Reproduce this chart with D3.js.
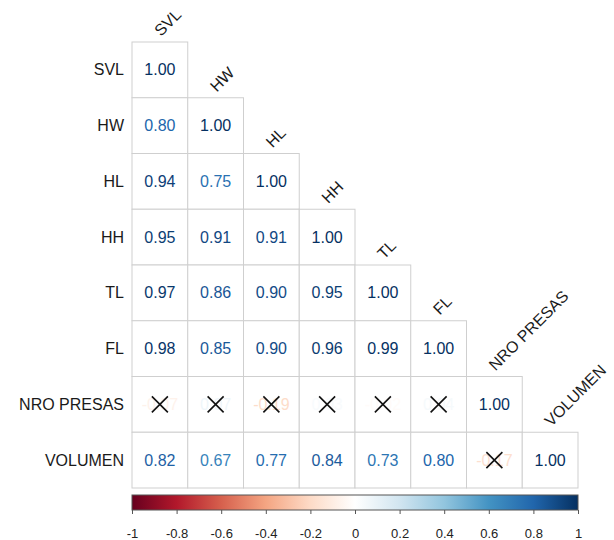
<!DOCTYPE html>
<html>
<head>
<meta charset="utf-8">
<script src="https://cdn.jsdelivr.net/npm/d3@7"></script>
<style>
  html, body { margin: 0; padding: 0; background: #fff; }
  svg { display: block; font-family: "Liberation Sans", Arial, sans-serif; }
</style>
</head>
<body>
<svg id="chart" width="614" height="540"></svg>
<script>
// Variables of the correlation matrix (row / column order)
const variables = ["SVL", "HW", "HL", "HH", "TL", "FL", "NRO PRESAS", "VOLUMEN"];

// Lower-triangle correlations, one array per row (columns from SVL up to the diagonal)
const rowSVL = [1.00];
const rowHW = [0.80, 1.00];
const rowHL = [0.94, 0.75, 1.00];
const rowHH = [0.95, 0.91, 0.91, 1.00];
const rowTL = [0.97, 0.86, 0.90, 0.95, 1.00];
const rowFL = [0.98, 0.85, 0.90, 0.96, 0.99, 1.00];
const rowNRO = [-0.07, 0.07, -0.19, 0.03, -0.02, 0.04, 1.00];
const rowVOL = [0.82, 0.67, 0.77, 0.84, 0.73, 0.80, -0.17, 1.00];

// Non-significant pairs [row, column], crossed out
const insignificant = [
  ["NRO PRESAS", "SVL"], ["NRO PRESAS", "HW"], ["NRO PRESAS", "HL"],
  ["NRO PRESAS", "HH"], ["NRO PRESAS", "TL"], ["NRO PRESAS", "FL"],
  ["VOLUMEN", "NRO PRESAS"]
];

// Colour legend
const legendTicks = [-1, -0.8, -0.6, -0.4, -0.2, 0, 0.2, 0.4, 0.6, 0.8, 1];
const paletteRdBu = ["#67001F", "#B2182B", "#D6604D", "#F4A582", "#FDDBC7", "#FFFFFF",
                     "#D1E5F0", "#92C5DE", "#4393C3", "#2166AC", "#053061"];

const rows = [rowSVL, rowHW, rowHL, rowHH, rowTL, rowFL, rowNRO, rowVOL];
const cells = [];
rows.forEach((r, i) => r.forEach((v, j) => cells.push({ row: variables[i], col: variables[j], value: v })));
const isInsig = (a, b) => insignificant.some(p => p[0] === a && p[1] === b);

const svg = d3.select("#chart");

const gridLeft = 132, gridTop = 42, cell = 55.75;
const n = variables.length;

const x = d3.scaleBand().domain(variables).range([gridLeft, gridLeft + n * cell]);
const y = d3.scaleBand().domain(variables).range([gridTop, gridTop + n * cell]);

const color = d3.scaleLinear()
  .domain(d3.range(paletteRdBu.length).map(i => -1 + i * 2 / (paletteRdBu.length - 1)))
  .range(paletteRdBu)
  .interpolate(d3.interpolateRgb);

// Cell borders
svg.append("g")
  .selectAll("rect")
  .data(cells)
  .join("rect")
  .attr("x", d => x(d.col))
  .attr("y", d => y(d.row))
  .attr("width", x.bandwidth())
  .attr("height", y.bandwidth())
  .attr("fill", "#fff")
  .attr("stroke", "#cfcfcf")
  .attr("stroke-width", 1);

// Coefficients
svg.append("g")
  .selectAll("text")
  .data(cells)
  .join("text")
  .attr("x", d => x(d.col) + x.bandwidth() / 2)
  .attr("y", d => y(d.row) + y.bandwidth() / 2)
  .attr("text-anchor", "middle")
  .attr("dominant-baseline", "central")
  .attr("font-size", 16)
  .attr("fill", d => color(d.value))
  .text(d => d.value.toFixed(2));

// Crosses over non-significant coefficients
const crossHalf = 8;
svg.append("g")
  .selectAll("path")
  .data(cells.filter(d => isInsig(d.row, d.col)))
  .join("path")
  .attr("d", d => {
    const cx = x(d.col) + x.bandwidth() / 2, cy = y(d.row) + y.bandwidth() / 2;
    return `M${cx - crossHalf},${cy - crossHalf}L${cx + crossHalf},${cy + crossHalf}` +
           `M${cx - crossHalf},${cy + crossHalf}L${cx + crossHalf},${cy - crossHalf}`;
  })
  .attr("stroke", "#111")
  .attr("stroke-width", 1.6)
  .attr("fill", "none");

// Row labels
svg.append("g")
  .selectAll("text")
  .data(variables)
  .join("text")
  .attr("x", gridLeft - 8)
  .attr("y", d => y(d) + y.bandwidth() / 2)
  .attr("text-anchor", "end")
  .attr("dominant-baseline", "central")
  .attr("font-size", 16)
  .attr("fill", "#1a1a1a")
  .text(d => d);

// Column labels, diagonal above each diagonal cell
svg.append("g")
  .selectAll("text")
  .data(variables)
  .join("text")
  .attr("transform", d => `translate(${x(d) + x.bandwidth() / 2 + 1},${y(d) - 5}) rotate(-45)`)
  .attr("text-anchor", "start")
  .attr("font-size", 16)
  .attr("fill", "#1a1a1a")
  .text(d => d);

// Colour bar
const barTop = 495, barHeight = 15;
const xLegend = d3.scaleLinear().domain([-1, 1]).range([gridLeft, gridLeft + n * cell]);

const grad = svg.append("defs").append("linearGradient")
  .attr("id", "rdbu")
  .attr("x1", "0%").attr("x2", "100%").attr("y1", "0%").attr("y2", "0%");
grad.selectAll("stop")
  .data(paletteRdBu)
  .join("stop")
  .attr("offset", (d, i) => `${(i / (paletteRdBu.length - 1)) * 100}%`)
  .attr("stop-color", d => d);

svg.append("rect")
  .attr("x", xLegend(-1))
  .attr("y", barTop)
  .attr("width", xLegend(1) - xLegend(-1))
  .attr("height", barHeight)
  .attr("fill", "url(#rdbu)")
  .attr("stroke", "#555")
  .attr("stroke-width", 1);

const legendAxis = d3.axisBottom(xLegend)
  .tickValues(legendTicks)
  .tickSize(4)
  .tickPadding(15)
  .tickFormat(d => String(Math.round(d * 10) / 10));

const gAxis = svg.append("g")
  .attr("transform", `translate(0,${barTop + barHeight})`)
  .call(legendAxis);
gAxis.select(".domain").remove();
gAxis.selectAll(".tick line").attr("stroke", "#555");
gAxis.selectAll(".tick text")
  .attr("font-size", 13)
  .attr("font-family", "'Liberation Sans', Arial, sans-serif")
  .attr("fill", "#222");
</script>
</body>
</html>
